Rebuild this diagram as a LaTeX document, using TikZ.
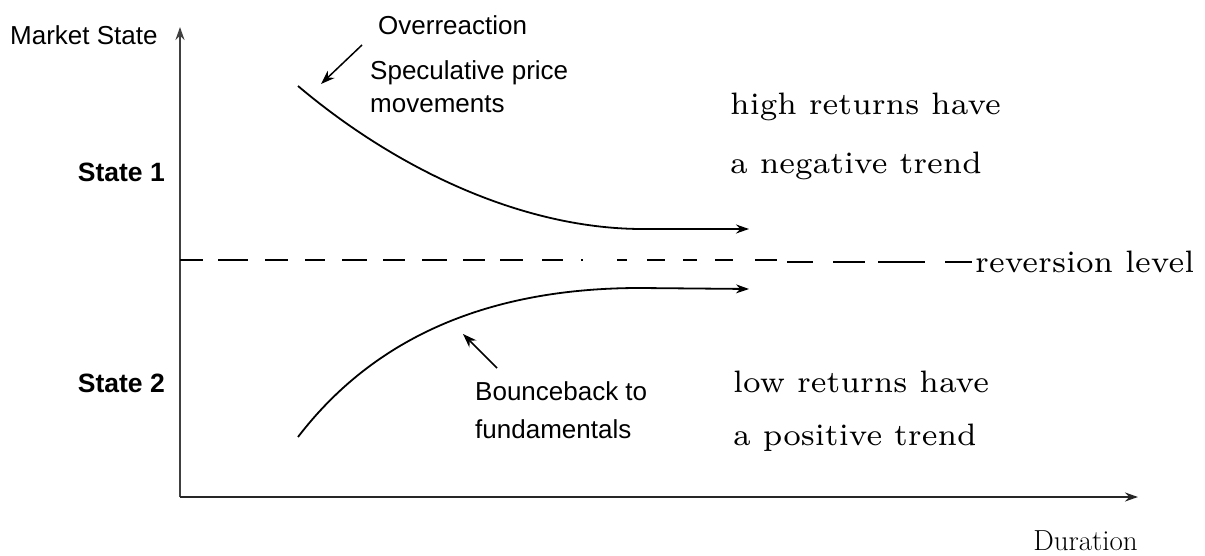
\documentclass[tikz,border=0pt]{standalone}
\usepackage{fontspec}
\setmainfont{Latin Modern Roman}
\newfontfamily\lmseven{lmroman7-regular.otf}
\newfontfamily\arialf{Liberation Sans}
\usetikzlibrary{arrows.meta}
\begin{document}
\begin{tikzpicture}[x=1pt,y=-1pt,
  sans/.style={font=\arialf\fontsize{26}{33}\selectfont,inner sep=0pt},
  sansb/.style={font=\arialf\bfseries\fontsize{26.5}{30}\selectfont,inner sep=0pt},
  serif/.style={font=\lmseven\fontsize{31}{40}\selectfont,inner sep=0pt},
  axis/.style={line width=2.2pt,draw=black!75,-{Stealth[length=13pt,width=9pt]}},
  curve/.style={line width=1.8pt,-{Stealth[length=13pt,width=9pt]}},
  pointer/.style={line width=1.5pt,-{Stealth[length=14pt,width=10pt]}},
  dashseg/.style={line width=1.7pt}]
\useasboundingbox (0,0) rectangle (1205,556);
% axes
\coordinate (o) at (180,497);
\coordinate (ytop) at (180,27);
\coordinate (xend) at (1138,497);
\draw[axis] (o) -- (ytop);
\draw[axis,draw=black!85] (o) -- (xend);
\node[sans,anchor=west] (ms) at (10,35) {Market State};
\node[anchor=east,inner sep=0pt,font=\fontsize{29}{30}\selectfont] (dur) at (1138,541) {Duration};
% state labels
\node[sansb,anchor=east] (s1) at (165,172) {State 1};
\node[sansb,anchor=east] (s2) at (165,383) {State 2};
% reversion level (irregular dashes)
\foreach \a/\b in {180/203,218/248,265/288,305/325,342/367,383/405,422/447,463/485,500/523,542/563,581/583,617/627,647/665,683/697,715/733,755/777}
  \draw[dashseg] (\a,260) -- (\b,260);
\foreach \a/\b in {787/813,833/865,878/925,945/972}
  \draw[dashseg] (\a,262) -- (\b,262);
\node[serif,anchor=west] (rev) at (975,262) {reversion level};
% curves
\coordinate (u0) at (298,86);
\coordinate (u1) at (640,229);
\coordinate (u2) at (749,229);
\draw[curve] (u0) .. controls (395,168) and (520,228) .. (u1) -- (u2);
\coordinate (l0) at (298,437);
\coordinate (l1) at (640,288);
\coordinate (l2) at (749,289);
\draw[curve] (l0) .. controls (380,330) and (500,288) .. (l1) -- (l2);
% annotations
\node[sans,anchor=base west] (over) at (378,35) {Overreaction};
\node[sans,anchor=base west] (spec) at (370,80) {Speculative price};
\node[sans,anchor=base west] (specb) at (370,113) {movements};
\coordinate (ot) at (362,45);
\coordinate (oh) at (321,84);
\draw[pointer] (ot) -- (oh);
\node[sans,anchor=base west] (bb) at (475,400) {Bounceback to};
\node[sans,anchor=base west] (bbb) at (475,438) {fundamentals};
\coordinate (bt) at (497,368);
\coordinate (bh) at (463,334);
\draw[pointer] (bt) -- (bh);
\node[serif,anchor=west] (h1) at (730,107) {high returns have};
\node[serif,anchor=west] (h2) at (730,166) {a negative trend};
\node[serif,anchor=west] (l1t) at (733,382) {low returns have};
\node[serif,anchor=west] (l2t) at (733,438) {a positive trend};
\end{tikzpicture}
\end{document}
